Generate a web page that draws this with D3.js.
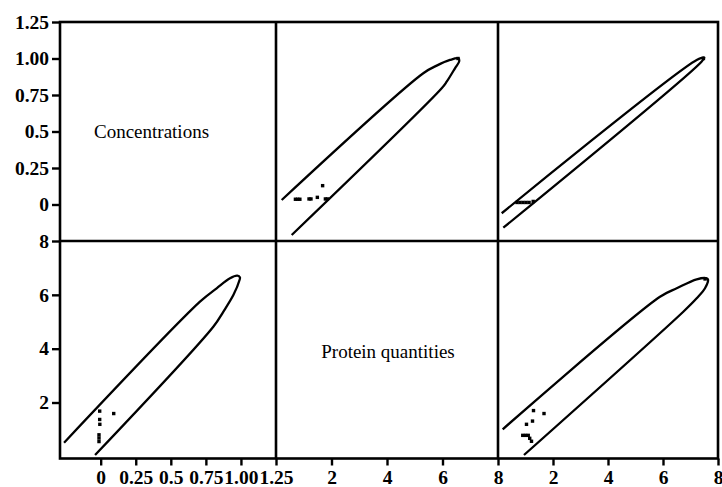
<!DOCTYPE html>
<html><head><meta charset="utf-8">
<script src="https://cdn.jsdelivr.net/npm/d3@7"></script>
<style>body{margin:0;background:#fff} svg{display:block}</style>
</head><body>
<svg id="chart" width="722" height="487"></svg>
<script>
// ---------- data ----------
const variableNames = ["Concentrations", "Protein quantities"];

const concTickValues = [0, 0.25, 0.5, 0.75, 1.0, 1.25];
const concTickLabels = ["0", "0.25", "0.5", "0.75", "1.00", "1.25"];
const protTickValues = [2, 4, 6, 8];
const protTickLabels = ["2", "4", "6", "8"];

// Panel row 1, col 2: x = protein, y = concentration
const outlineR1C2 = [[0.205,0.031],[5.308,0.899],[5.791,0.951],[6.270,0.990],[6.569,1.001],
  [6.605,0.983],[6.450,0.933],[6.151,0.841],[5.971,0.796],[0.566,-0.209]];
const pointsR1C2 = [[0.70,0.036],[0.78,0.036],[0.86,0.036],[1.19,0.038],[1.26,0.038],
  [1.49,0.049],[1.68,0.129],[1.78,0.038],[1.85,0.038],[6.56,1.0]];

// Panel row 1, col 3: x = third variable, y = concentration
const outlineR1C3 = [[0.135,-0.060],[7.225,0.990],[7.50,1.006],[7.40,0.978],[0.193,-0.159]];
const pointsR1C3 = [[0.69,0.014],[0.80,0.014],[0.91,0.014],[1.02,0.014],[1.13,0.014],
  [1.28,0.021],[7.47,1.0]];

// Panel row 2, col 1: x = concentration, y = protein
const outlineR2C1 = [[-0.261,0.507],[0.708,5.745],[0.827,6.243],[0.922,6.614],[0.974,6.71],
  [0.993,6.644],[0.990,6.55],[0.946,5.99],[0.874,5.37],[0.803,4.816],[-0.040,0.05]];
const pointsR2C1 = [[-0.007,1.68],[0.093,1.59],[-0.007,1.37],[-0.006,1.19],
  [-0.012,0.80],[-0.012,0.68],[-0.012,0.55]];

// Panel row 2, col 3: x = third variable, y = protein
const outlineR2C3 = [[0.171,1.005],[5.891,5.93],[6.498,6.243],[7.225,6.577],[7.589,6.614],
  [7.636,6.57],[7.527,6.243],[7.225,5.871],[6.738,5.373],[0.945,0.05]];
const pointsR2C3 = [[1.291,1.70],[1.673,1.59],[1.255,1.31],[1.036,1.19],
  [0.90,0.78],[1.00,0.78],[1.10,0.78],[1.153,0.67],[1.218,0.56],[7.53,6.59]];

// ---------- layout ----------
const svg = d3.select("#chart");
const xCol = [
  d3.scaleLinear().domain([-0.29, 1.25]).range([60, 276]),
  d3.scaleLinear().domain([0, 8]).range([276, 498]),
  d3.scaleLinear().domain([0, 8]).range([498, 718])
];
const yRow = [
  d3.scaleLinear().domain([-0.25, 1.25]).range([241, 22]),
  d3.scaleLinear().domain([-0.08, 8]).range([458.5, 241])
];

const tickFont = "bold 19.5px 'Liberation Serif', 'Times New Roman', serif";

function styleAxis(g) {
  g.select(".domain").remove();
  g.selectAll(".tick line").attr("stroke", "#000").attr("stroke-width", 2.4);
  g.selectAll(".tick text").style("font", tickFont).attr("fill", "#000");
}

// left axes
svg.append("g").attr("transform", "translate(60,0)")
  .call(d3.axisLeft(yRow[0]).tickValues(concTickValues)
    .tickFormat((d, i) => concTickLabels[i]).tickSize(8).tickPadding(3))
  .call(styleAxis);
svg.append("g").attr("transform", "translate(60,0)")
  .call(d3.axisLeft(yRow[1]).tickValues(protTickValues)
    .tickFormat((d, i) => protTickLabels[i]).tickSize(8).tickPadding(3))
  .call(styleAxis);

// bottom axes
[[xCol[0], concTickValues, concTickLabels],
 [xCol[1], protTickValues, protTickLabels],
 [xCol[2], protTickValues, protTickLabels]].forEach(([sc, vals, labs]) => {
  svg.append("g").attr("transform", "translate(0,458.5)")
    .call(d3.axisBottom(sc).tickValues(vals)
      .tickFormat((d, i) => labs[i]).tickSize(7).tickPadding(5))
    .call(styleAxis);
});

// frame
const frame = svg.append("g").attr("stroke", "#000").attr("stroke-width", 2.6).attr("fill", "none");
frame.append("rect").attr("x", 60).attr("y", 22).attr("width", 658).attr("height", 436.5);
frame.append("line").attr("x1", 276).attr("x2", 276).attr("y1", 22).attr("y2", 458.5);
frame.append("line").attr("x1", 498).attr("x2", 498).attr("y1", 22).attr("y2", 458.5);
frame.append("line").attr("x1", 60).attr("x2", 718).attr("y1", 241).attr("y2", 241);

// panels
const panels = [
  {outline: outlineR1C2, points: pointsR1C2, x: xCol[1], y: yRow[0]},
  {outline: outlineR1C3, points: pointsR1C3, x: xCol[2], y: yRow[0]},
  {outline: outlineR2C1, points: pointsR2C1, x: xCol[0], y: yRow[1]},
  {outline: outlineR2C3, points: pointsR2C3, x: xCol[2], y: yRow[1]}
];
const ms = 3.4;
panels.forEach(p => {
  const line = d3.line().x(d => p.x(d[0])).y(d => p.y(d[1])).curve(d3.curveCatmullRom.alpha(0.5));
  svg.append("path").datum(p.outline).attr("d", line)
    .attr("fill", "none").attr("stroke", "#000").attr("stroke-width", 2.3)
    .attr("stroke-linejoin", "round");
  svg.append("g").selectAll("rect").data(p.points).join("rect")
    .attr("x", d => p.x(d[0]) - ms / 2).attr("y", d => p.y(d[1]) - ms / 2)
    .attr("width", ms).attr("height", ms).attr("fill", "#000");
});

// diagonal labels
const labelFont = "19px 'Liberation Serif', 'Times New Roman', serif";
svg.append("text").attr("x", 94).attr("y", 138).style("font", labelFont)
  .attr("fill", "#000").text(variableNames[0]);
svg.append("text").attr("x", 388).attr("y", 357.5).attr("text-anchor", "middle")
  .style("font", labelFont).attr("fill", "#000").text(variableNames[1]);
</script>
</body></html>
